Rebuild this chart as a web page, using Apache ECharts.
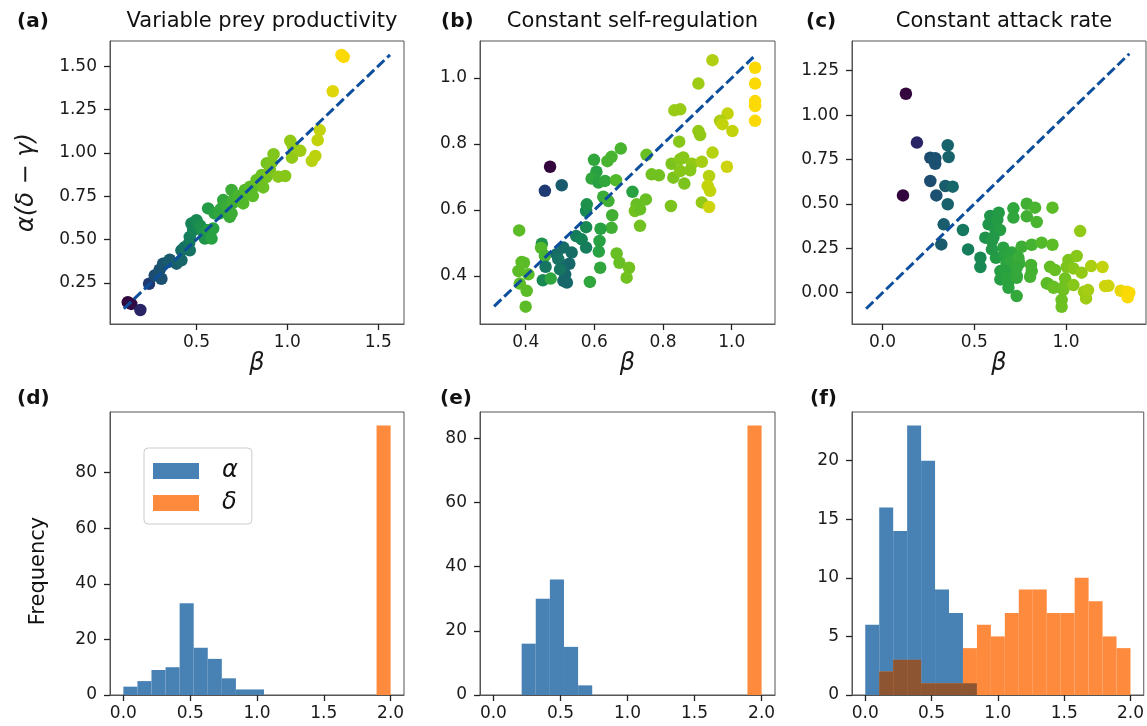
<!DOCTYPE html>
<html>
<head>
<meta charset="utf-8">
<script src="https://cdn.jsdelivr.net/npm/echarts@6/dist/echarts.min.js"></script>
<style>
html,body{margin:0;padding:0;background:#fff;}
#chart{width:1147px;height:726px;}
</style>
</head>
<body>
<div id="chart"></div>
<script>
// ---------- DATA ----------
// Scatter points: [beta, y, colourValue]
const pointsA = [
 [0.122,0.138,0.0],[0.141,0.128,0.02],[0.191,0.093,0.12],[0.239,0.244,0.2],[0.27,0.292,0.28],
 [0.297,0.325,0.3],[0.307,0.273,0.3],[0.316,0.36,0.32],[0.343,0.37,0.34],[0.353,0.383,0.35],
 [0.39,0.36,0.37],[0.417,0.38,0.4],[0.417,0.437,0.42],[0.435,0.455,0.44],[0.46,0.48,0.46],
 [0.463,0.437,0.44],[0.463,0.514,0.48],[0.472,0.592,0.5],[0.482,0.563,0.5],[0.482,0.553,0.5],
 [0.491,0.601,0.5],[0.5,0.611,0.52],[0.518,0.573,0.52],[0.52,0.58,0.54],[0.537,0.544,0.55],
 [0.546,0.505,0.56],[0.555,0.553,0.56],[0.564,0.534,0.56],[0.566,0.553,0.58],[0.583,0.505,0.6],
 [0.592,0.563,0.6],[0.564,0.679,0.58],[0.6,0.65,0.6],[0.628,0.65,0.62],[0.629,0.669,0.62],
 [0.638,0.68,0.62],[0.647,0.727,0.62],[0.657,0.708,0.63],[0.665,0.689,0.64],[0.683,0.63,0.64],
 [0.693,0.65,0.65],[0.693,0.785,0.65],[0.70,0.71,0.66],[0.702,0.727,0.66],[0.73,0.75,0.68],
 [0.739,0.727,0.68],[0.749,0.727,0.68],[0.757,0.708,0.7],[0.767,0.785,0.7],[0.775,0.785,0.7],
 [0.794,0.766,0.72],[0.795,0.804,0.72],[0.81,0.75,0.72],[0.812,0.80,0.72],[0.831,0.843,0.74],
 [0.84,0.843,0.74],[0.859,0.872,0.75],[0.867,0.80,0.75],[0.885,0.86,0.76],[0.887,0.94,0.77],
 [0.895,0.88,0.77],[0.904,0.9,0.78],[0.914,0.944,0.78],[0.924,0.992,0.79],[0.95,0.862,0.8],
 [0.988,0.866,0.8],[1.016,1.069,0.82],[1.025,0.972,0.82],[1.03,1.04,0.82],[1.071,1.011,0.84],
 [1.135,0.953,0.88],[1.154,0.982,0.89],[1.167,1.073,0.9],[1.178,1.131,0.9],[1.25,1.355,0.95],
 [1.298,1.564,1.0],[1.31,1.553,1.0]
];
const pointsB = [
 [0.471,0.731,0.0],[0.456,0.658,0.2],[0.505,0.675,0.35],[0.381,0.538,0.72],[0.388,0.442,0.72],
 [0.395,0.44,0.72],[0.379,0.415,0.72],[0.408,0.405,0.72],[0.383,0.377,0.72],[0.403,0.355,0.72],
 [0.40,0.307,0.72],[0.447,0.498,0.55],[0.445,0.485,0.7],[0.456,0.461,0.68],[0.458,0.428,0.45],
 [0.45,0.387,0.52],[0.473,0.392,0.62],[0.51,0.486,0.42],[0.490,0.466,0.42],[0.495,0.451,0.44],
 [0.534,0.471,0.42],[0.527,0.437,0.40],[0.508,0.422,0.40],[0.515,0.405,0.40],[0.51,0.385,0.40],
 [0.52,0.38,0.40],[0.50,0.42,0.45],[0.547,0.521,0.48],[0.563,0.511,0.5],[0.576,0.486,0.48],
 [0.576,0.548,0.52],[0.576,0.597,0.52],[0.578,0.617,0.55],[0.587,0.382,0.62],[0.599,0.752,0.62],
 [0.606,0.716,0.6],[0.592,0.695,0.62],[0.612,0.683,0.6],[0.631,0.688,0.62],[0.663,0.69,0.7],
 [0.626,0.640,0.64],[0.641,0.627,0.66],[0.652,0.584,0.66],[0.65,0.546,0.66],[0.618,0.543,0.6],
 [0.615,0.506,0.6],[0.613,0.474,0.6],[0.617,0.425,0.62],[0.638,0.748,0.68],[0.650,0.761,0.68],
 [0.677,0.786,0.68],[0.665,0.468,0.74],[0.673,0.44,0.74],[0.944,1.054,0.87],[0.903,0.983,0.84],
 [0.833,0.902,0.83],[0.85,0.905,0.83],[1.068,1.031,1.0],[1.068,0.983,1.0],[1.068,0.930,1.0],
 [1.068,0.915,1.0],[1.068,0.870,1.0],[0.988,0.892,0.9],[0.966,0.87,0.86],[0.973,0.86,0.9],
 [1.002,0.839,0.9],[0.903,0.839,0.82],[0.908,0.827,0.82],[0.847,0.807,0.8],[0.944,0.774,0.88],
 [0.986,0.731,0.92],[0.752,0.767,0.74],[0.825,0.74,0.78],[0.85,0.754,0.8],[0.859,0.759,0.8],
 [0.884,0.74,0.82],[0.913,0.746,0.85],[0.767,0.708,0.76],[0.788,0.705,0.76],[0.83,0.698,0.78],
 [0.85,0.718,0.8],[0.879,0.72,0.8],[0.862,0.68,0.78],[0.934,0.703,0.88],[0.93,0.673,0.9],
 [0.937,0.658,0.9],[0.913,0.623,0.82],[0.934,0.609,0.92],[0.823,0.612,0.78],[0.711,0.655,0.6],
 [0.75,0.632,0.74],[0.723,0.617,0.74],[0.718,0.597,0.76],[0.733,0.602,0.74],[0.733,0.552,0.76],
 [0.701,0.425,0.76],[0.694,0.395,0.76]
];
const pointsC = [
 [0.127,1.12,0.0],[0.187,0.845,0.12],[0.111,0.548,0.0],[0.26,0.76,0.28],[0.287,0.757,0.3],
 [0.287,0.726,0.3],[0.28,0.75,0.3],[0.355,0.83,0.38],[0.36,0.764,0.38],[0.26,0.629,0.28],
 [0.293,0.548,0.3],[0.342,0.601,0.36],[0.382,0.597,0.4],[0.355,0.498,0.38],[0.333,0.385,0.36],
 [0.32,0.272,0.35],[0.438,0.353,0.46],[0.466,0.244,0.48],[0.533,0.197,0.52],[0.533,0.145,0.52],
 [0.587,0.432,0.56],[0.633,0.45,0.58],[0.578,0.385,0.56],[0.615,0.357,0.57],[0.56,0.31,0.55],
 [0.596,0.291,0.57],[0.596,0.244,0.57],[0.618,0.197,0.58],[0.642,0.122,0.59],[0.642,0.075,0.59],
 [0.625,0.41,0.58],[0.64,0.353,0.59],[0.604,0.312,0.57],[0.658,0.253,0.6],[0.667,0.203,0.6],
 [0.676,0.165,0.61],[0.664,0.118,0.6],[0.685,0.056,0.61],[0.731,-0.019,0.63],[0.704,0.146,0.62],
 [0.731,0.094,0.63],[0.713,0.475,0.62],[0.713,0.423,0.62],[0.704,0.227,0.62],[0.74,0.184,0.64],
 [0.758,0.259,0.65],[0.745,0.165,0.64],[0.786,0.501,0.66],[0.831,0.479,0.68],[0.786,0.43,0.66],
 [0.84,0.398,0.68],[0.809,0.156,0.67],[0.804,0.09,0.67],[0.813,0.27,0.67],[0.867,0.282,0.7],
 [0.926,0.479,0.72],[0.926,0.27,0.72],[0.895,0.053,0.72],[0.931,0.034,0.74],[0.913,0.146,0.73],
 [0.94,0.128,0.74],[0.995,0.081,0.76],[0.995,0.043,0.76],[0.985,0.015,0.76],[0.976,-0.041,0.75],
 [0.976,-0.079,0.75],[1.013,0.184,0.78],[1.004,0.146,0.78],[1.04,0.137,0.8],[1.058,0.207,0.8],
 [1.077,0.347,0.82],[1.085,0.113,0.82],[1.04,0.043,0.8],[1.098,0.006,0.84],[1.109,-0.032,0.84],
 [1.12,0.015,0.85],[1.137,0.15,0.86],[1.199,0.145,0.9],[1.213,0.038,0.92],[1.231,0.039,0.92],
 [1.298,0.011,0.97],[1.331,0.006,0.99],[1.345,0.0,1.0],[1.336,-0.026,1.0],[0.686,0.216,0.61],
 [0.695,0.178,0.62],[0.74,0.197,0.64],[0.731,0.141,0.63],[0.667,0.122,0.6],[0.676,0.084,0.61],
 [0.686,0.028,0.61],[0.731,0.084,0.63],[0.813,0.122,0.67],[0.9,0.051,0.72],[0.932,0.028,0.74]
];
// 1:1 reference line extents
const diagA = [0.1, 1.565];
const diagB = [0.308, 1.063];
const diagC = [-0.09, 1.345];

// Histogram bin edges (shared) and counts
const binEdges = [0,0.1053,0.2105,0.3158,0.4211,0.5263,0.6316,0.7368,0.8421,0.9474,1.0526,
  1.1579,1.2632,1.3684,1.4737,1.5789,1.6842,1.7895,1.8947,2.0];
const alphaD = [3,5,9,10,33,17,13,6,2,2,0,0,0,0,0,0,0,0,0];
const deltaD = [0,0,0,0,0,0,0,0,0,0,0,0,0,0,0,0,0,0,97];
const alphaE = [0,0,16,30,36,15,3,0,0,0,0,0,0,0,0,0,0,0,0];
const deltaE = [0,0,0,0,0,0,0,0,0,0,0,0,0,0,0,0,0,0,84];
const alphaF = [6,16,14,23,20,9,7,1,0,0,0,0,0,0,0,0,0,0,0];
const deltaF = [0,2,3,3,1,1,1,4,6,5,7,9,9,7,7,10,8,5,4];

// Tick values
const ticksAX = [0.5,1.0,1.5];
const ticksAY = [0.25,0.5,0.75,1.0,1.25,1.5];
const ticksBX = [0.4,0.6,0.8,1.0];
const ticksBY = [0.4,0.6,0.8,1.0];
const ticksCX = [0.0,0.5,1.0];
const ticksCY = [0.0,0.25,0.5,0.75,1.0,1.25];
const ticksHX = [0.0,0.5,1.0,1.5,2.0];
const ticksDY = [0,20,40,60,80];
const ticksEY = [0,20,40,60,80];
const ticksFY = [0,5,10,15,20];

const titles = ['Variable prey productivity','Constant self-regulation','Constant attack rate'];
const letters = ['(a)','(b)','(c)','(d)','(e)','(f)'];

// ---------- STYLE ----------
const FONT = 'DejaVu Sans';
const BLUE = '#4881b4', ORANGE = '#fe8a3d', BROWN = '#8d5532', DIAG = '#0d4f9c';
const cmap = ['#33073e','#2a1f62','#1f3a72','#1b5070','#17666a','#158357','#27a141','#52b92a','#86c71a','#c2d30c','#fbd905'];
const grids = [
  {left:110, top:41, width:294, height:283},
  {left:480, top:41, width:295, height:283},
  {left:852, top:41, width:294, height:283},
  {left:110, top:412, width:294, height:283},
  {left:480, top:412, width:295, height:283},
  {left:852, top:412, width:294, height:283}
].map(g => Object.assign({show:true, borderColor:'#555', borderWidth:1, backgroundColor:'#fff'}, g));

function axis(type, idx, min, max, ticks, dec, name){
  const a = {
    type:'value', gridIndex:idx, min:min, max:max,
    axisLine:{show:true, onZero:false, lineStyle:{color:'#555', width:1}},
    splitLine:{show:false},
    axisTick:{show:true, length:6, customValues:ticks, lineStyle:{color:'#222', width:1.3}},
    axisLabel:{customValues:ticks, margin: type==='x'?10:13, fontSize:17, fontFamily:FONT, color:'#1a1a1a',
      formatter: v => Number(v).toFixed(dec)}
  };
  if (name) {
    a.name = name; a.nameLocation = 'middle';
    a.nameTextStyle = {fontSize:24, fontFamily:FONT, fontStyle:'italic', color:'#1a1a1a'};
    a.nameGap = type==='x' ? 26 : 71;
  }
  return a;
}

const xAxes = [
  axis('x',0,0.024,1.642,ticksAX,1,'β'),
  axis('x',1,0.267,1.126,ticksBX,1,'β'),
  axis('x',2,-0.167,1.436,ticksCX,1,'β'),
  axis('x',3,-0.1,2.1,ticksHX,1),
  axis('x',4,-0.1,2.1,ticksHX,1),
  axis('x',5,-0.1,2.1,ticksHX,1)
];
const yAxes = [
  axis('y',0,0.012,1.645,ticksAY,2,'α(δ − γ)'),
  axis('y',1,0.2545,1.112,ticksBY,1),
  axis('y',2,-0.176,1.417,ticksCY,2),
  axis('y',3,0,101.85,ticksDY,0),
  axis('y',4,0,88.2,ticksEY,0),
  axis('y',5,0,24.15,ticksFY,0)
];

function histData(counts, other){
  const out = [];
  for (let i = 0; i < counts.length; i++) {
    if (counts[i] > 0) out.push([binEdges[i], binEdges[i+1], counts[i], other ? Math.min(other[i], counts[i]) : 0]);
  }
  return out;
}
function rectFor(api, x0, x1, h){
  const p0 = api.coord([x0, h]);
  const p1 = api.coord([x1, 0]);
  return {x:p0[0], y:p0[1], width:p1[0]-p0[0], height:p1[1]-p0[1]};
}
function renderAlpha(params, api){
  return {type:'rect', shape:rectFor(api, api.value(0), api.value(1), api.value(2)), style:{fill:BLUE}};
}
function renderDelta(params, api){
  const children = [{type:'rect', shape:rectFor(api, api.value(0), api.value(1), api.value(2)), style:{fill:ORANGE}}];
  const ov = api.value(3);
  if (ov > 0) children.push({type:'rect', shape:rectFor(api, api.value(0), api.value(1), ov), style:{fill:BROWN}});
  return {type:'group', children:children};
}

const series = [];
[[pointsA,diagA],[pointsB,diagB],[pointsC,diagC]].forEach((pd, i) => {
  series.push({type:'scatter', xAxisIndex:i, yAxisIndex:i, data:pd[0], symbolSize:12.5, z:2,
    itemStyle:{opacity:1}, silent:true});
  series.push({type:'line', xAxisIndex:i, yAxisIndex:i, data:[[pd[1][0],pd[1][0]],[pd[1][1],pd[1][1]]],
    symbol:'none', z:5, silent:true, lineStyle:{color:DIAG, width:3, type:[10,4], cap:'butt'}});
});
[[alphaD,deltaD],[alphaE,deltaE],[alphaF,deltaF]].forEach((h, j) => {
  const gi = j + 3;
  series.push({type:'custom', name:'α', xAxisIndex:gi, yAxisIndex:gi, data:histData(h[0]),
    renderItem:renderAlpha, itemStyle:{color:BLUE}, encode:{x:[0,1], y:2}, clip:true, silent:true, z:2});
  series.push({type:'custom', name:'δ', xAxisIndex:gi, yAxisIndex:gi, data:histData(h[1], h[0]),
    renderItem:renderDelta, itemStyle:{color:ORANGE}, encode:{x:[0,1], y:2}, clip:true, silent:true, z:3});
});

const titleList = [];
const centers = [257, 627.5, 999];
titles.forEach((t,i) => titleList.push({text:t, left:centers[i], top:6, textAlign:'center',
  textStyle:{fontSize:21, fontWeight:'normal', fontFamily:FONT, color:'#111'}}));
const letterPos = [[12,7],[436,7],[801,7],[12,384],[435,384],[805,384]];
letters.forEach((l,i) => titleList.push({text:l, left:letterPos[i][0], top:letterPos[i][1],
  textStyle:{fontSize:20, fontWeight:'bold', fontFamily:FONT, color:'#111'}}));

const option = {
  animation:false,
  backgroundColor:'#fff',
  textStyle:{fontFamily:FONT},
  title:titleList,
  grid:grids,
  xAxis:xAxes,
  yAxis:yAxes,
  visualMap:{type:'continuous', show:false, min:0, max:1, dimension:2, seriesIndex:[0,2,4],
    inRange:{color:cmap}},
  legend:{
    data:[{name:'α', icon:'rect'},{name:'δ', icon:'rect'}],
    orient:'vertical', left:144, top:448,
    padding:[11,14,9,9], itemWidth:46, itemHeight:16, itemGap:8,
    backgroundColor:'#fff', borderColor:'#ccc', borderWidth:1, borderRadius:4,
    selectedMode:false,
    textStyle:{fontSize:24, fontStyle:'italic', fontFamily:FONT, color:'#111', lineHeight:16, padding:[0,0,0,18]}
  },
  graphic:[{type:'text', x:38.5, y:571, rotation:Math.PI/2,
    style:{text:'Frequency', fontSize:21, fontFamily:FONT, fill:'#111', align:'center', verticalAlign:'middle'}}],
  series:series
};

const chart = echarts.init(document.getElementById('chart'), null, {renderer:'canvas'});
chart.setOption(option);
</script>
</body>
</html>
